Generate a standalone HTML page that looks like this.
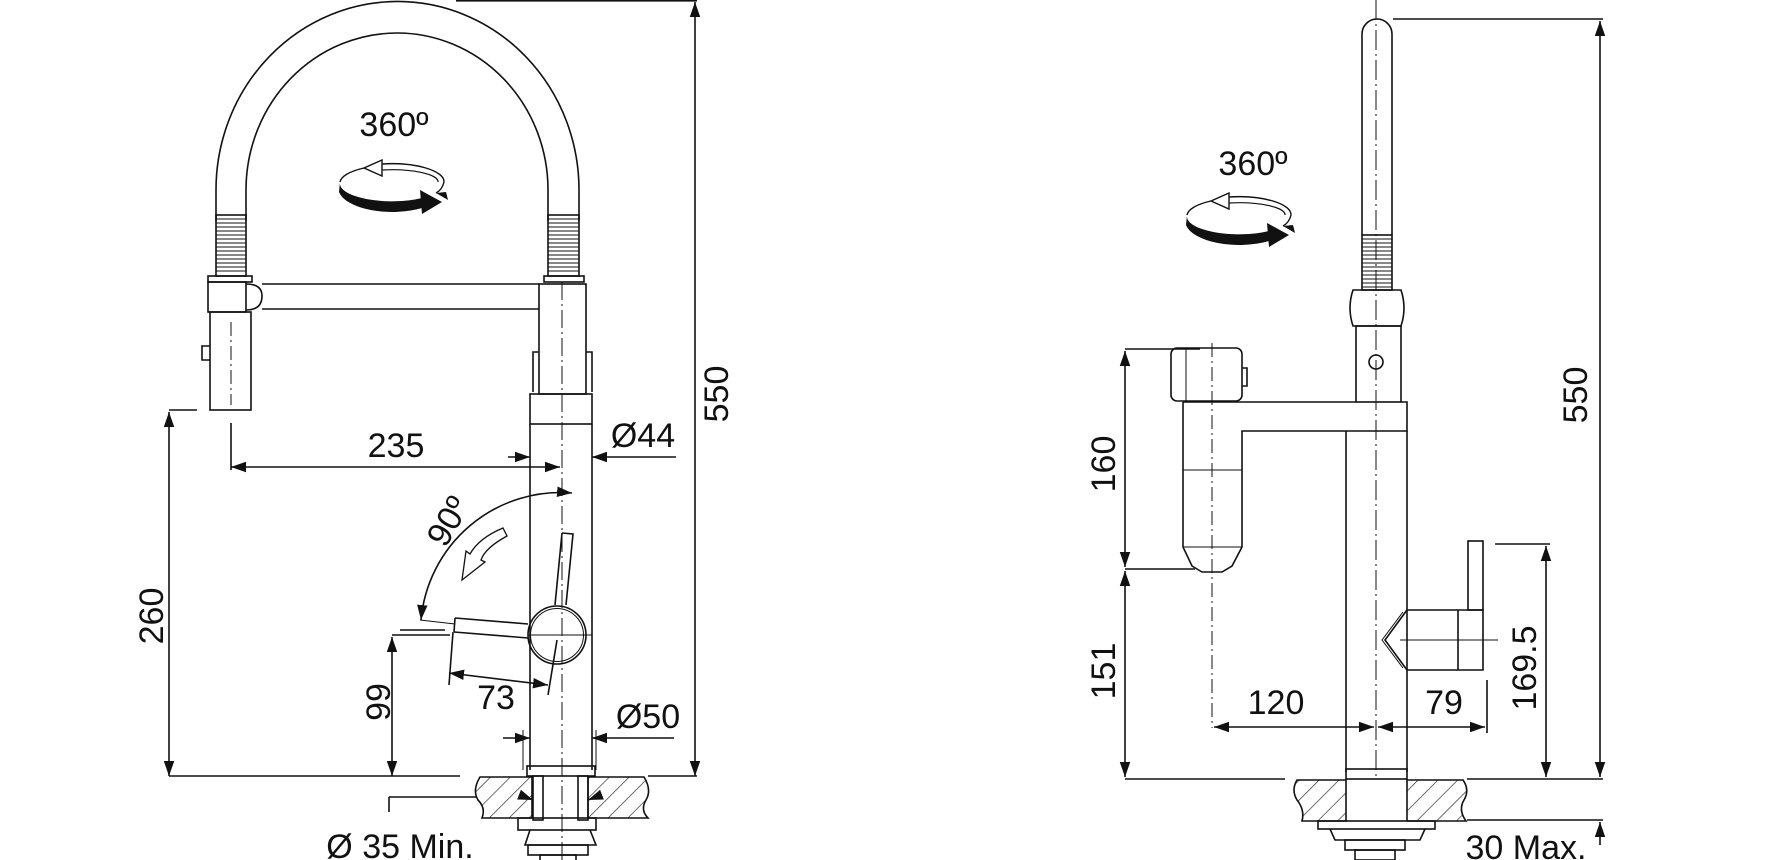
<!DOCTYPE html>
<html><head><meta charset="utf-8"><style>
html,body{margin:0;padding:0;background:#fff;}
svg{display:block;}
text{font-family:"Liberation Sans",sans-serif;font-size:34px;fill:#111;}
</style></head><body>
<svg width="1774" height="860" viewBox="0 0 1774 860" xmlns="http://www.w3.org/2000/svg">
<defs>
<pattern id="h" width="14" height="14" patternUnits="userSpaceOnUse" patternTransform="rotate(45)">
<line x1="0" y1="0" x2="0" y2="14" stroke="#222" stroke-width="1.3"/>
</pattern>
<marker id="a" viewBox="0 0 10 10" refX="10" refY="5" markerWidth="15" markerHeight="15" orient="auto-start-reverse" markerUnits="userSpaceOnUse">
<path d="M0,1.5 L10,5 L0,8.5 Z" fill="#111"/>
</marker>
</defs>
<g fill="none" stroke="#111" stroke-width="1.6">
<!-- LEFT FAUCET -->
<line x1="456" y1="0.8" x2="697" y2="0.8"/>
<line x1="695" y1="2" x2="695" y2="776" marker-start="url(#a)" marker-end="url(#a)"/>
<line x1="648" y1="776" x2="697" y2="776"/>
<path d="M216,221 L216,190 A181,188 0 0 1 579,190 L579,221"/>
<path d="M246,221 L246,190 A151,157 0 0 1 548,190 L548,221"/>
<rect x="216" y="215" width="30" height="61"/>
<rect x="548" y="215" width="31" height="61"/>
<g stroke-width="1.1">
<path d="M216,219H246M216,223H246M216,227H246M216,231H246M216,235H246M216,239H246M216,243H246M216,247H246M216,251H246M216,255H246M216,259H246M216,263H246M216,267H246M216,271H246"/>
<path d="M548,219H579M548,223H579M548,227H579M548,231H579M548,235H579M548,239H579M548,243H579M548,247H579M548,251H579M548,255H579M548,259H579M548,263H579M548,267H579M548,271H579"/>
</g>
<rect x="208" y="276" width="44" height="6"/>
<rect x="544" y="276" width="40" height="6"/>
<rect x="208" y="282" width="38" height="30"/>
<path d="M246,284 Q262,284 262,296 Q262,310 246,310"/>
<line x1="262" y1="284" x2="539" y2="284"/>
<line x1="262" y1="309" x2="539" y2="309"/>
<rect x="210" y="312" width="41" height="98"/>
<path d="M210,346 L202,346 L202,360 L210,360"/>
<line x1="231" y1="322" x2="231" y2="405" stroke-dasharray="14,4,2,4" stroke-width="1"/>
<rect x="539" y="284" width="47" height="110"/>
<path d="M539,352 L533,352 L533,392 M586,352 L592,352 L592,392"/>
<rect x="530" y="394" width="62" height="30"/>
<line x1="530" y1="424" x2="530" y2="770"/>
<line x1="592" y1="424" x2="592" y2="770"/>
<rect x="527" y="766" width="68" height="10"/>
<line x1="562" y1="282" x2="562" y2="860" stroke-dasharray="18,4,2,4" stroke-width="1"/>
<line x1="169" y1="410" x2="197" y2="410"/>
<line x1="169" y1="412" x2="169" y2="776" marker-start="url(#a)" marker-end="url(#a)"/>
<line x1="169" y1="776" x2="460" y2="776"/>
<line x1="231" y1="423" x2="231" y2="470"/>
<line x1="231" y1="467" x2="560" y2="467" marker-start="url(#a)" marker-end="url(#a)"/>
<line x1="508" y1="457" x2="530" y2="457" marker-end="url(#a)"/>
<line x1="676" y1="457" x2="592" y2="457" marker-end="url(#a)"/>
<circle cx="557" cy="635" r="29"/>
<circle cx="557" cy="635" r="26.5" stroke-width="1"/>
<path d="M562,533 L573,534 L566,605 M562,533 L555,605"/>
<path d="M455,618 L528,624 M454,632 L528,638 M455,618 L454,632"/>
<line x1="528" y1="635" x2="592" y2="635" stroke-width="1"/>
<path d="M572,493 A140,140 0 0 0 421,620" marker-start="url(#a)" marker-end="url(#a)"/>
<path d="M503,528 L507,536 Q485,548 481,560 L485,562 L462,580 L466,551 L470,554 Q479,538 503,528 Z" stroke-width="1.3"/>
<line x1="400" y1="630" x2="445" y2="630"/>
<line x1="420" y1="620" x2="455" y2="624" stroke-width="1"/>
<line x1="453" y1="632" x2="449" y2="685"/>
<line x1="557" y1="640" x2="548" y2="695"/>
<line x1="449" y1="673" x2="548" y2="685" marker-start="url(#a)" marker-end="url(#a)"/>
<line x1="392" y1="637" x2="392" y2="776" marker-start="url(#a)" marker-end="url(#a)"/>
<line x1="392" y1="635" x2="450" y2="635"/>
<line x1="503" y1="738" x2="530" y2="738" marker-end="url(#a)"/>
<line x1="674" y1="738" x2="592" y2="738" marker-end="url(#a)"/>
<line x1="523" y1="730" x2="523" y2="770" stroke-width="1"/>
<line x1="596" y1="730" x2="596" y2="770" stroke-width="1"/>
<path d="M480,777 L532,777 L532,818 L482,818 Q486,808 478,800 Q472,790 480,777 Z" fill="url(#h)"/>
<path d="M588,777 L644,777 Q652,790 646,800 Q640,810 648,818 L588,818 Z" fill="url(#h)"/>
<rect x="533" y="776" width="10" height="44"/>
<rect x="578" y="776" width="10" height="44"/>
<line x1="389" y1="797" x2="477" y2="797"/>
<line x1="389" y1="797" x2="389" y2="812"/>
<line x1="520" y1="795" x2="533" y2="800" marker-end="url(#a)"/>
<line x1="601" y1="795" x2="588" y2="800" marker-end="url(#a)"/>
<rect x="518" y="818" width="78" height="12"/>
<path d="M530,830 L525,845 L596,845 L590,830"/>
<rect x="528" y="845" width="60" height="10"/>
<rect x="540" y="855" width="36" height="6"/>

<!-- RIGHT FAUCET -->
<path d="M1362,235 L1362,34 A15,15 0 0 1 1392,34 L1392,235"/>
<line x1="1376" y1="0" x2="1376" y2="780" stroke-dasharray="20,4,2,4" stroke-width="1"/>
<line x1="1393" y1="19" x2="1603" y2="19"/>
<line x1="1600" y1="21" x2="1600" y2="777" marker-start="url(#a)" marker-end="url(#a)"/>
<rect x="1362" y="235" width="30" height="55"/>
<g stroke-width="1.1"><path d="M1362,239H1392M1362,243H1392M1362,247H1392M1362,251H1392M1362,255H1392M1362,259H1392M1362,263H1392M1362,267H1392M1362,271H1392M1362,275H1392M1362,279H1392M1362,283H1392M1362,287H1392"/></g>
<path d="M1353,290 L1401,290 Q1407,308 1401,326 L1353,326 Q1347,308 1353,290 Z"/>
<rect x="1356" y="326" width="45" height="76"/>
<circle cx="1376" cy="362" r="7"/>
<path d="M1183,402 L1356,402 M1401,402 L1407,402 L1407,431 L1242,431 L1242,547 L1232,566 L1222,572 L1202,572 L1192,566 L1183,547 L1183,402"/>
<line x1="1183" y1="470" x2="1242" y2="470" stroke-width="1"/>
<line x1="1183" y1="547" x2="1242" y2="547" stroke-width="1"/>
<rect x="1171" y="348" width="71" height="53" rx="6"/>
<path d="M1186,348 L1186,401" stroke-width="1"/>
<path d="M1242,368 L1247,368 L1247,386 L1242,386"/>
<line x1="1212" y1="343" x2="1212" y2="728" stroke-dasharray="14,4,2,4" stroke-width="1"/>
<line x1="1346" y1="431" x2="1346" y2="772"/>
<line x1="1407" y1="431" x2="1407" y2="772"/>
<rect x="1346" y="769" width="61" height="10"/>
<path d="M1407,610 L1385,640 L1407,670 L1483,670 L1483,610 Z"/>
<path d="M1403,612 L1382,640 L1403,668" stroke-width="1"/>
<line x1="1458" y1="610" x2="1458" y2="670"/>
<rect x="1468" y="541" width="15" height="69"/>
<line x1="1400" y1="640" x2="1498" y2="640" stroke-width="1"/>
<line x1="1125" y1="349" x2="1200" y2="349"/>
<line x1="1125" y1="569" x2="1195" y2="569"/>
<line x1="1125" y1="351" x2="1125" y2="567" marker-start="url(#a)" marker-end="url(#a)"/>
<line x1="1125" y1="571" x2="1125" y2="777" marker-start="url(#a)" marker-end="url(#a)"/>
<line x1="1125" y1="779" x2="1285" y2="779"/>
<line x1="1467" y1="779" x2="1603" y2="779"/>
<line x1="1214" y1="727" x2="1374" y2="727" marker-start="url(#a)" marker-end="url(#a)"/>
<line x1="1378" y1="727" x2="1485" y2="727" marker-start="url(#a)" marker-end="url(#a)"/>
<line x1="1487" y1="680" x2="1487" y2="733"/>
<line x1="1495" y1="544" x2="1550" y2="544"/>
<line x1="1546" y1="546" x2="1546" y2="777" marker-start="url(#a)" marker-end="url(#a)"/>
<path d="M1297,780 L1346,780 L1346,821 L1302,821 Q1305,810 1297,800 Q1291,790 1297,780 Z" fill="url(#h)"/>
<path d="M1407,780 L1463,780 Q1470,790 1464,800 Q1458,810 1466,821 L1407,821 Z" fill="url(#h)"/>
<line x1="1467" y1="820" x2="1603" y2="820"/>
<line x1="1600" y1="845" x2="1600" y2="822" marker-end="url(#a)"/>
<rect x="1318" y="821" width="117" height="8"/>
<path d="M1330,829 L1335,840 L1420,840 L1425,829"/>
<rect x="1345" y="840" width="60" height="10"/>
<rect x="1355" y="850" width="40" height="10"/>
</g>

<!-- rotation icons -->
<g id="rot" transform="translate(392,182)">
<path d="M-10,-18 A52,18 0 0 1 52,0 Q50,8 44,11" fill="none" stroke="#111" stroke-width="1.4"/>
<path d="M-10,-12 A46,12 0 0 1 46,0" fill="none" stroke="#111" stroke-width="1.2"/>
<path d="M-10,-22 L-28,-14 L-10,-6 Z" fill="#fff" stroke="#111" stroke-width="1.4"/>
<path d="M-28,-14 A52,18 0 0 0 -52,0" fill="none" stroke="#111" stroke-width="1.4"/>
<path d="M-52,0 A52,18 0 0 0 30,16 L30,26 A54,24 0 0 1 -53,10 Z" fill="#111"/>
<path d="M28,8 L50,20 L30,32 Z" fill="#111"/>
<path d="M44,11 L54,10 L56,18 Z" fill="#111"/>
</g>
<g transform="translate(1239,215)">
<path d="M-10,-18 A52,18 0 0 1 52,0 Q50,8 44,11" fill="none" stroke="#111" stroke-width="1.4"/>
<path d="M-10,-12 A46,12 0 0 1 46,0" fill="none" stroke="#111" stroke-width="1.2"/>
<path d="M-10,-22 L-28,-14 L-10,-6 Z" fill="#fff" stroke="#111" stroke-width="1.4"/>
<path d="M-28,-14 A52,18 0 0 0 -52,0" fill="none" stroke="#111" stroke-width="1.4"/>
<path d="M-52,0 A52,18 0 0 0 30,16 L30,26 A54,24 0 0 1 -53,10 Z" fill="#111"/>
<path d="M28,8 L50,20 L30,32 Z" fill="#111"/>
<path d="M44,11 L54,10 L56,18 Z" fill="#111"/>
</g>

<!-- labels -->
<text x="394" y="136" text-anchor="middle">360º</text>
<text x="1253" y="175" text-anchor="middle">360º</text>
<text x="396" y="457" text-anchor="middle">235</text>
<text x="643" y="447" text-anchor="middle">Ø44</text>
<text x="648" y="728" text-anchor="middle">Ø50</text>
<text x="496" y="709" text-anchor="middle">73</text>
<text x="400" y="858" text-anchor="middle">Ø 35 Min.</text>
<text transform="translate(728,394) rotate(-90)" text-anchor="middle">550</text>
<text transform="translate(163,616) rotate(-90)" text-anchor="middle">260</text>
<text transform="translate(390,702) rotate(-90)" text-anchor="middle">99</text>
<text transform="translate(458,527) rotate(-60)" text-anchor="middle">90º</text>
<text x="1276" y="714" text-anchor="middle">120</text>
<text x="1444" y="714" text-anchor="middle">79</text>
<text x="1526" y="859" text-anchor="middle">30 Max.</text>
<text transform="translate(1587,395) rotate(-90)" text-anchor="middle">550</text>
<text transform="translate(1115,464) rotate(-90)" text-anchor="middle">160</text>
<text transform="translate(1115,671) rotate(-90)" text-anchor="middle">151</text>
<text transform="translate(1536,668) rotate(-90)" text-anchor="middle">169.5</text>
</svg>
</body></html>
